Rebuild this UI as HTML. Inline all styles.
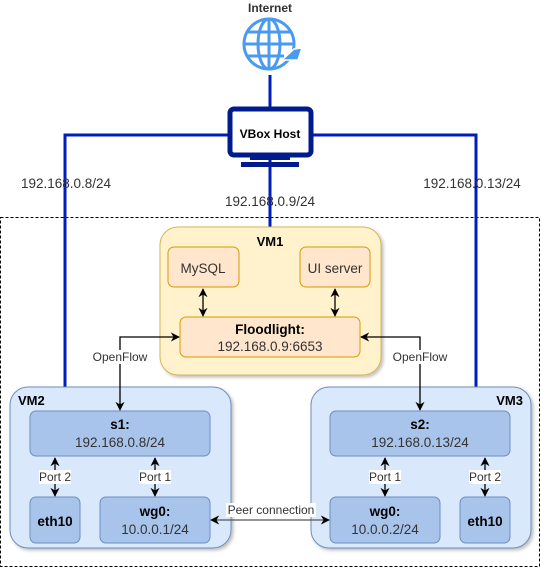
<!DOCTYPE html>
<html><head><style>
body{margin:0;width:541px;height:568px;background:#fff;font-family:"Liberation Sans",sans-serif;overflow:hidden}
</style></head><body>
<svg width="541" height="568" xmlns="http://www.w3.org/2000/svg" font-family="Liberation Sans, sans-serif">
<defs>
<marker id="a" viewBox="0 0 10 10" refX="9" refY="5" markerWidth="7" markerHeight="7" orient="auto-start-reverse"><path d="M0,0 L10,5 L0,10 L3,5z" fill="#000"/></marker>
<filter id="sh"><feDropShadow dx="2" dy="2" stdDeviation="1.5" flood-opacity="0.25"/></filter>
</defs>
<rect x="0.5" y="217.5" width="539" height="349" fill="none" stroke="#000" stroke-dasharray="3,2"/>
<g stroke="#001DBC" stroke-width="3" fill="none">
<polyline points="65,387 65,135 230,135"/>
<polyline points="476,387 476,135 310,135"/>
<line x1="270" y1="75" x2="270" y2="108"/>
<line x1="270" y1="160" x2="270" y2="228"/>
</g>
<g stroke="#4A9BF0" stroke-width="3" fill="none">
<circle cx="269" cy="44" r="25"/>
<ellipse cx="269" cy="44" rx="11" ry="25"/>
<line x1="269" y1="19" x2="269" y2="69"/>
<line x1="244" y1="44" x2="294" y2="44"/>
<path d="M248,32 H290 M248,56 H284"/>
</g>
<path d="M282,60 L294,49 L302,48 L298,60 Z" fill="#4A9BF0" stroke="#fff" stroke-width="1.5"/>
<text x="270" y="12" text-anchor="middle" font-size="12" font-weight="bold" fill="#333">Internet</text>
<rect x="230" y="109" width="81" height="46" rx="4" fill="#fff" stroke="#001B8C" stroke-width="5"/>
<rect x="250" y="155" width="40" height="5" fill="#001B8C"/>
<rect x="241" y="162" width="58" height="5" fill="#001B8C"/>
<text x="270" y="138" text-anchor="middle" font-size="12" font-weight="bold" fill="#000">VBox Host</text>
<g font-size="13.5" fill="#333" text-anchor="middle">
<text x="66" y="188">192.168.0.8/24</text>
<text x="270" y="206">192.168.0.9/24</text>
<text x="472" y="188">192.168.0.13/24</text>
</g>
<rect x="160" y="227" width="221" height="148" rx="18" fill="#FFF2CC" stroke="#D6B656" filter="url(#sh)"/>
<text x="270" y="246" text-anchor="middle" font-size="13" font-weight="bold">VM1</text>
<rect x="168" y="247" width="71" height="40" rx="6" fill="#FFE6CC" stroke="#D79B00"/>
<rect x="300" y="247" width="70" height="40" rx="6" fill="#FFE6CC" stroke="#D79B00"/>
<rect x="180" y="317" width="180" height="40" rx="6" fill="#FFE6CC" stroke="#D79B00"/>
<g font-size="13.5" fill="#333" text-anchor="middle">
<text x="203" y="273">MySQL</text>
<text x="335" y="273">UI server</text>
<text x="270" y="334" font-weight="bold" fill="#000">Floodlight:</text>
<text x="270" y="351">192.168.0.9:6653</text>
</g>
<rect x="10" y="387" width="221" height="161" rx="18" fill="#DAE8FC" stroke="#6C8EBF" filter="url(#sh)"/>
<text x="18" y="405" font-size="13" font-weight="bold">VM2</text>
<rect x="30" y="411" width="180" height="45" rx="6" fill="#A9C4EB" stroke="#6C8EBF"/>
<rect x="30" y="497" width="50" height="46" rx="6" fill="#A9C4EB" stroke="#6C8EBF"/>
<rect x="100" y="497" width="110" height="46" rx="6" fill="#A9C4EB" stroke="#6C8EBF"/>
<rect x="311" y="387" width="220" height="161" rx="18" fill="#DAE8FC" stroke="#6C8EBF" filter="url(#sh)"/>
<text x="523" y="405" font-size="13" font-weight="bold" text-anchor="end">VM3</text>
<rect x="330" y="411" width="180" height="45" rx="6" fill="#A9C4EB" stroke="#6C8EBF"/>
<rect x="330" y="497" width="110" height="46" rx="6" fill="#A9C4EB" stroke="#6C8EBF"/>
<rect x="460" y="497" width="50" height="46" rx="6" fill="#A9C4EB" stroke="#6C8EBF"/>
<g font-size="13.5" fill="#333" text-anchor="middle">
<text x="120" y="429" font-weight="bold" fill="#000">s1:</text>
<text x="120" y="447">192.168.0.8/24</text>
<text x="55" y="526" font-weight="bold" fill="#000">eth10</text>
<text x="155" y="516" font-weight="bold" fill="#000">wg0:</text>
<text x="155" y="534">10.0.0.1/24</text>
<text x="420" y="429" font-weight="bold" fill="#000">s2:</text>
<text x="420" y="447">192.168.0.13/24</text>
<text x="385" y="516" font-weight="bold" fill="#000">wg0:</text>
<text x="385" y="534">10.0.0.2/24</text>
<text x="485" y="526" font-weight="bold" fill="#000">eth10</text>
</g>
<g stroke="#000" stroke-width="1.3" fill="none">
<line x1="203" y1="289" x2="203" y2="316" marker-start="url(#a)" marker-end="url(#a)"/>
<line x1="335" y1="289" x2="335" y2="316" marker-start="url(#a)" marker-end="url(#a)"/>
<polyline points="120,410 120,337 179,337" marker-start="url(#a)" marker-end="url(#a)"/>
<polyline points="420,410 420,337 361,337" marker-start="url(#a)" marker-end="url(#a)"/>
<line x1="55" y1="458" x2="55" y2="496" marker-start="url(#a)" marker-end="url(#a)"/>
<line x1="155" y1="458" x2="155" y2="496" marker-start="url(#a)" marker-end="url(#a)"/>
<line x1="385" y1="458" x2="385" y2="496" marker-start="url(#a)" marker-end="url(#a)"/>
<line x1="485" y1="458" x2="485" y2="496" marker-start="url(#a)" marker-end="url(#a)"/>
<line x1="211" y1="520" x2="329" y2="520" stroke="#555" marker-start="url(#a)" marker-end="url(#a)"/>
</g>
<g font-size="12" fill="#333" text-anchor="middle">
<rect x="92" y="350" width="56" height="14" fill="#fff"/><text x="120" y="361">OpenFlow</text>
<rect x="392" y="350" width="56" height="14" fill="#fff"/><text x="420" y="361">OpenFlow</text>
<rect x="39" y="470" width="32" height="14" fill="#fff"/><text x="55" y="481">Port 2</text>
<rect x="139" y="470" width="32" height="14" fill="#fff"/><text x="155" y="481">Port 1</text>
<rect x="369" y="470" width="32" height="14" fill="#fff"/><text x="385" y="481">Port 1</text>
<rect x="469" y="470" width="32" height="14" fill="#fff"/><text x="485" y="481">Port 2</text>
<rect x="226" y="503" width="90" height="14" fill="#fff"/><text x="271" y="514">Peer connection</text>
</g>
</svg>
</body></html>
